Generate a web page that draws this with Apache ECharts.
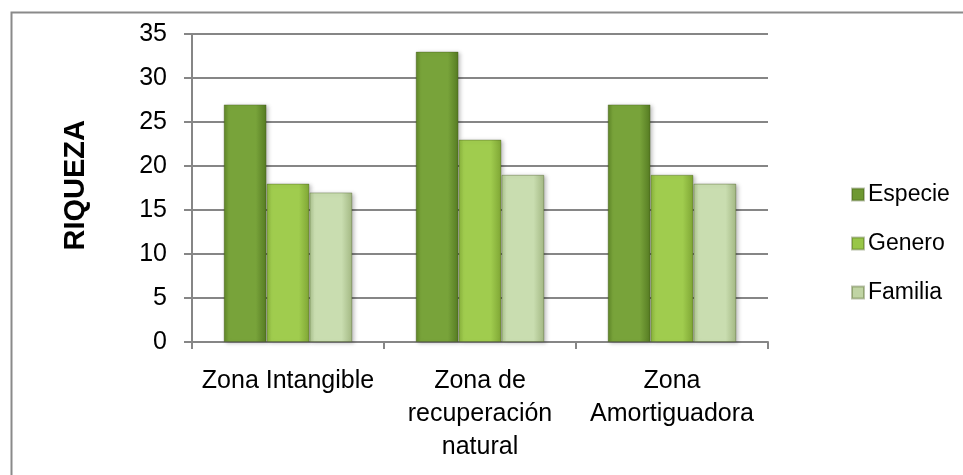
<!DOCTYPE html>
<html>
<head>
<meta charset="utf-8">
<script src="https://cdn.jsdelivr.net/npm/echarts@6/dist/echarts.min.js"></script>
<style>html,body{margin:0;padding:0;background:#fff;}#c{width:963px;height:475px;}</style>
</head>
<body>
<div id="c"></div>
<script>
var categories = ['Zona Intangible', 'Zona de\nrecuperación\nnatural', 'Zona\nAmortiguadora'];
var seriesNames = ['Especie', 'Genero', 'Familia'];
var especie = [27, 33, 27];
var genero = [18, 23, 19];
var familia = [17, 19, 18];
var yTicks = {min: 0, max: 35, interval: 5};

var FONT = "'Liberation Sans Narrow', 'Arial Narrow', 'Liberation Sans', sans-serif";
function grad(edge, mid, edge2) {
  return new echarts.graphic.LinearGradient(0, 0, 1, 0, [
    {offset: 0, color: edge}, {offset: 0.12, color: mid}, {offset: 0.75, color: mid}, {offset: 1, color: edge2}
  ]);
}
var colors = [
  grad('#5e8426', '#78a33a', '#557a22'),
  grad('#86b13a', '#a0cc4e', '#7ea534'),
  grad('#a9c08a', '#c9ddb0', '#a2b782')
];
var legendColors = ['#6e9832', '#98c648', '#c0d4a4'];
var values = [especie, genero, familia];

var chart = echarts.init(document.getElementById('c'), null, {renderer: 'canvas'});
chart.setOption({
  animation: false,
  backgroundColor: '#fff',
  graphic: [{
    type: 'rect', left: 9, top: 10, shape: {x: 0, y: 0, width: 1000, height: 500},
    style: {fill: 'none', stroke: '#8a8a8a', lineWidth: 2}, silent: true, z: -10
  }, {
    type: 'text', left: 61, top: 120, rotation: Math.PI / 2,
    style: {text: 'RIQUEZA', font: 'bold 29px "Liberation Sans", Arial, sans-serif', fill: '#000'},
    silent: true
  }],
  legend: {
    orient: 'vertical', left: 846, top: 177, itemGap: 24, itemWidth: 12, itemHeight: 12,
    icon: 'rect',
    textStyle: {fontFamily: FONT, fontSize: 23, lineHeight: 25, color: '#000', padding: [0, 0, 0, -1]},
    data: seriesNames.map(function (n, i) { return {name: n, itemStyle: {color: legendColors[i]}}; })
  },
  grid: {left: 192, right: 195, top: 34, bottom: 133, containLabel: false},
  xAxis: {
    type: 'category', data: categories,
    axisLine: {lineStyle: {color: '#868686', width: 2}},
    axisTick: {show: true, length: 7, lineStyle: {color: '#868686', width: 2}},
    axisLabel: {fontFamily: FONT, fontSize: 25, color: '#000', margin: 23, lineHeight: 33, interval: 0}
  },
  yAxis: {
    type: 'value', min: yTicks.min, max: yTicks.max, interval: yTicks.interval,
    axisLine: {show: true, lineStyle: {color: '#868686', width: 2}},
    axisTick: {show: true, length: 8, lineStyle: {color: '#868686', width: 2}},
    splitLine: {lineStyle: {color: '#868686', width: 2}},
    axisLabel: {fontFamily: FONT, fontSize: 25, color: '#000', margin: 25}
  },
  series: seriesNames.map(function (n, i) {
    return {
      name: n, type: 'bar', data: values[i], barGap: '0%', barCategoryGap: '33%',
      itemStyle: {color: colors[i], borderColor: 'rgba(60,80,20,0.35)', borderWidth: 1,
        shadowColor: 'rgba(0,0,0,0.25)', shadowBlur: 4, shadowOffsetX: 2, shadowOffsetY: 1}
    };
  })
});
</script>
</body>
</html>
